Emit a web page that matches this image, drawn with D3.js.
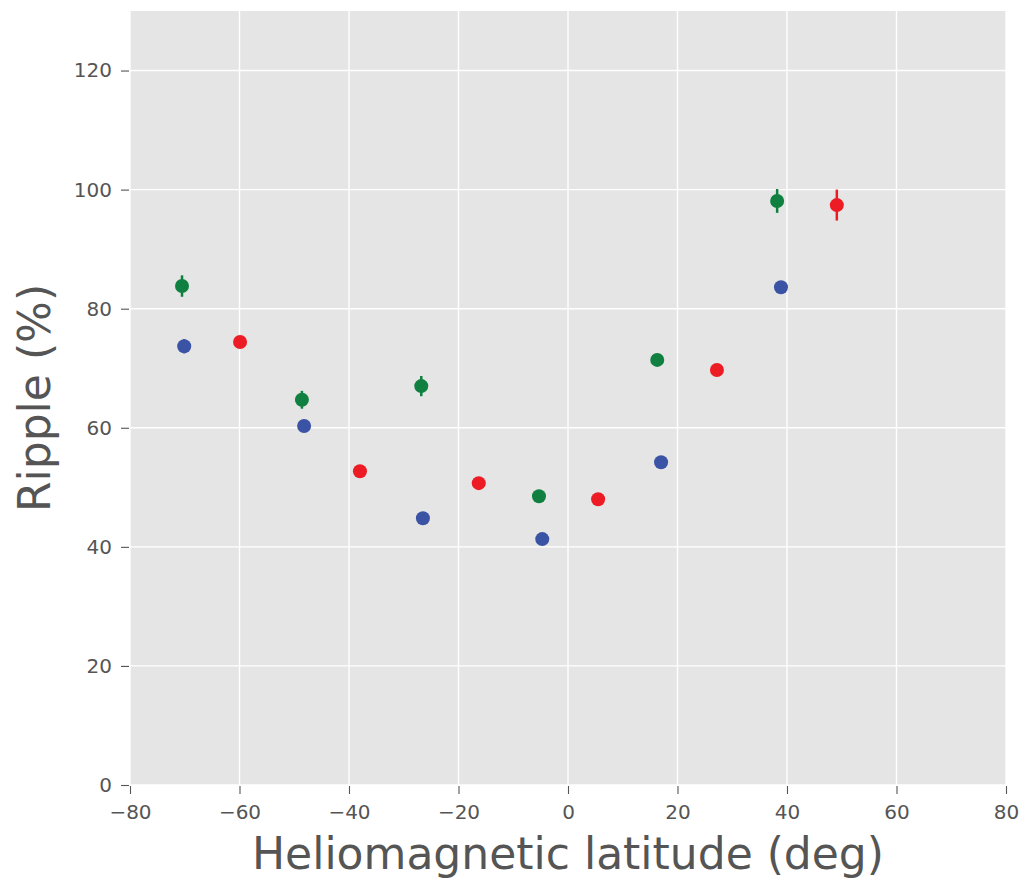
<!DOCTYPE html>
<html>
<head>
<meta charset="utf-8">
<script src="https://cdn.jsdelivr.net/npm/d3@7"></script>
<style>
body { margin: 0; background: #fff; }
text { font-family: "DejaVu Sans", sans-serif; }
</style>
</head>
<body>
<svg id="chart" width="1024" height="882"></svg>
<script>
// Data
const greenLat = [-70.5, -48.6, -26.8, -5.3, 16.3, 38.2];
const greenRipple = [83.8, 64.7, 67.0, 48.5, 71.4, 98.1];
const greenErr = [1.8, 1.5, 1.7, 0.8, 0.9, 2.0];

const blueLat = [-70.1, -48.2, -26.5, -4.7, 17.0, 38.9];
const blueRipple = [73.7, 60.3, 44.8, 41.3, 54.2, 83.6];
const blueErr = [1.2, 0.8, 0.7, 0.6, 0.8, 0.9];

const redLat = [-59.9, -38.0, -16.3, 5.5, 27.2, 49.1];
const redRipple = [74.4, 52.7, 50.7, 48.0, 69.7, 97.4];
const redErr = [1.0, 0.8, 0.6, 0.6, 0.7, 2.6];

const xTicks = [-80, -60, -40, -20, 0, 20, 40, 60, 80];
const yTicks = [0, 20, 40, 60, 80, 100, 120];

const seriesList = [
  { lat: greenLat, val: greenRipple, err: greenErr, color: "#0f8040" },
  { lat: blueLat, val: blueRipple, err: blueErr, color: "#3a53a4" },
  { lat: redLat, val: redRipple, err: redErr, color: "#ed1c24" }
];

const svg = d3.select("#chart");
const pL = 130, pR = 1006, pT = 11, pB = 785;

const x = d3.scaleLinear().domain([-80, 80]).range([pL, pR]);
const y = d3.scaleLinear().domain([0, 130]).range([pB, pT]);

svg.append("rect").attr("x", pL).attr("y", pT)
  .attr("width", pR - pL).attr("height", pB - pT).attr("fill", "#e5e5e5");

// grid
svg.append("g").selectAll("line").data(xTicks).join("line")
  .attr("x1", d => x(d)).attr("x2", d => x(d)).attr("y1", pT).attr("y2", pB)
  .attr("stroke", "#fff").attr("stroke-width", 1.4);
svg.append("g").selectAll("line").data(yTicks).join("line")
  .attr("x1", pL).attr("x2", pR).attr("y1", d => y(d)).attr("y2", d => y(d))
  .attr("stroke", "#fff").attr("stroke-width", 1.4);

// axes
const xAxis = svg.append("g").attr("transform", `translate(0,${pB + 1})`)
  .call(d3.axisBottom(x).tickValues(xTicks).tickSize(8).tickPadding(11)
    .tickFormat(d => d < 0 ? "\u2212" + Math.abs(d) : d));
const yAxis = svg.append("g").attr("transform", `translate(${pL - 1},0)`)
  .call(d3.axisLeft(y).tickValues(yTicks).tickSize(8).tickPadding(9));
[xAxis, yAxis].forEach(a => {
  a.select(".domain").remove();
  a.selectAll(".tick line").attr("stroke", "#555").attr("stroke-width", 1.1);
  a.selectAll(".tick text").attr("fill", "#555").attr("font-size", 20)
    .attr("font-family", "DejaVu Sans, sans-serif");
});

// error bars and points
seriesList.forEach(s => {
  const g = svg.append("g");
  const idx = d3.range(s.lat.length);
  g.selectAll("line").data(idx).join("line")
    .attr("x1", i => x(s.lat[i])).attr("x2", i => x(s.lat[i]))
    .attr("y1", i => y(s.val[i] - s.err[i])).attr("y2", i => y(s.val[i] + s.err[i]))
    .attr("stroke", s.color).attr("stroke-width", 2.5);
  g.selectAll("circle").data(idx).join("circle")
    .attr("cx", i => x(s.lat[i])).attr("cy", i => y(s.val[i]))
    .attr("r", 7).attr("fill", s.color);
});

// axis labels
svg.append("text").attr("x", (pL + pR) / 2).attr("y", 869)
  .attr("text-anchor", "middle").attr("font-size", 44).attr("fill", "#555")
  .text("Heliomagnetic latitude (deg)");
svg.append("text")
  .attr("transform", `translate(50,${(pT + pB) / 2}) rotate(-90)`)
  .attr("text-anchor", "middle").attr("font-size", 44).attr("fill", "#555")
  .text("Ripple (%)");
</script>
</body>
</html>
